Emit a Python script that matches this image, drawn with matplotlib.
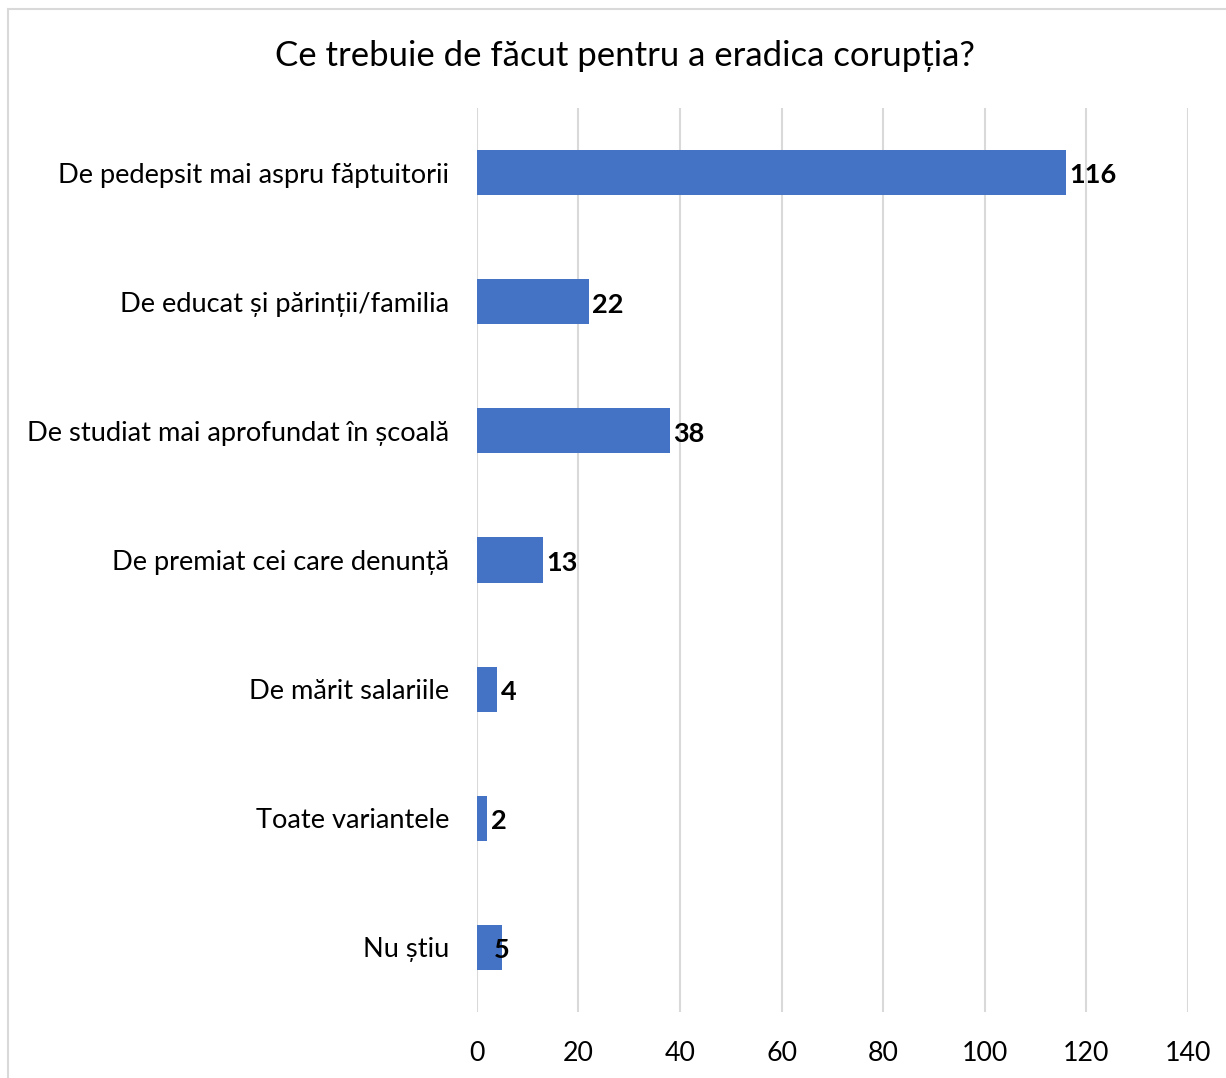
import matplotlib.pyplot as plt
import matplotlib.patches as mpatches

# data
categories = ['De pedepsit mai aspru făptuitorii',
              'De educat și părinții/familia',
              'De studiat mai aprofundat în școală',
              'De premiat cei care denunță',
              'De mărit salariile',
              'Toate variantele',
              'Nu știu']
values = [116, 22, 38, 13, 4, 2, 5]
xticks = [0, 20, 40, 60, 80, 100, 120, 140]
title = 'Ce trebuie de făcut pentru a eradica corupția?'

plt.rcParams['font.family'] = ['Lato', 'DejaVu Sans']

fig = plt.figure(figsize=(12.26, 10.78), dpi=100)
ax = fig.add_axes([0.389, 0.0612, 0.580, 0.8386])

pos = list(range(len(categories)))
bars = ax.barh(pos, values, height=0.35, color='#4472C4', zorder=3)
ax.set_ylim(len(categories) - 0.5, -0.5)
ax.set_xlim(0, 140)
ax.set_xticks(xticks)
ax.set_yticks(pos)
ax.set_yticklabels(categories, fontsize=19.6)
ax.tick_params(axis='x', labelsize=19.3, length=0, pad=21)
ax.tick_params(axis='y', length=0, pad=20)
ax.grid(axis='x', color='#D9D9D9', linewidth=1.5, zorder=0)
for s in ax.spines.values():
    s.set_visible(False)

for i, v in enumerate(values):
    off = -6 if v == 5 else 2.5
    ax.annotate(str(v), (v, i), xytext=(off, -2), textcoords='offset points',
                ha='left', va='center', fontsize=19.5, fontweight='bold', zorder=4)

fig.text(0.51, 0.948, title, ha='center', va='center', fontsize=25)

# chart border
fig.patches.append(mpatches.Rectangle((8 / 1226, -0.01), 1.5, 1 - 9 / 1078 + 0.01,
                                      transform=fig.transFigure, fill=False,
                                      edgecolor='#D9D9D9', linewidth=1.5))

fig.savefig('out.png', dpi=100)
